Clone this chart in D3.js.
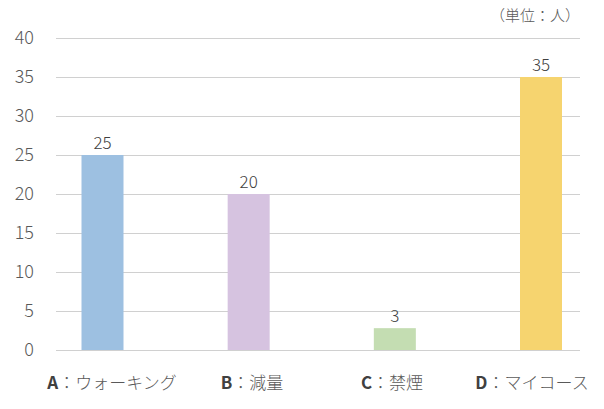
<!DOCTYPE html>
<html>
<head>
<meta charset="utf-8">
<script src="https://cdn.jsdelivr.net/npm/d3@7"></script>
<style>
  body { margin: 0; background: #fff; }
  text { font-family: "Noto Sans CJK JP", "Noto Sans", sans-serif; }
</style>
</head>
<body>
<div id="chart"></div>
<script>
const width = 604;
const height = 409;

// data
const letters = ["A", "B", "C", "D"];
const names = ["ウォーキング", "減量", "禁煙", "マイコース"];
const values = [25, 20, 2.8, 35];
const colors = ["#9dc0e1", "#d6c3e0", "#c4ddb2", "#f6d46f"];
const yTicks = [0, 5, 10, 15, 20, 25, 30, 35, 40];
const unitLabel = "（単位：人）";

const svg = d3.select("#chart").append("svg")
    .attr("width", width)
    .attr("height", height)
    .attr("viewBox", [0, 0, width, height]);

const plotLeft = 56, plotRight = 580;

const y = d3.scaleLinear().domain([0, 40]).range([350, 38]);
// bar centres
const x = d3.scalePoint().domain(letters).range([102.5, 541]);
// category label centres
const xLabel = d3.scalePoint().domain(letters).range([112, 532]);
const barWidth = 42;
const fmt = d3.format(".0f");

// gridlines
svg.append("g").selectAll("line")
    .data(yTicks)
    .enter().append("line")
    .attr("x1", plotLeft)
    .attr("x2", plotRight)
    .attr("y1", d => Math.round(y(d)) + 0.5)
    .attr("y2", d => Math.round(y(d)) + 0.5)
    .attr("stroke", "#d0d0d0")
    .attr("stroke-width", 1);

// y tick labels
svg.append("g").selectAll("text")
    .data(yTicks)
    .enter().append("text")
    .attr("x", 34)
    .attr("y", d => y(d))
    .attr("dy", "0.35em")
    .attr("text-anchor", "end")
    .style("font-size", "18px")
    .style("font-weight", "300")
    .style("fill", "#595959")
    .text(d => d);

// bars
svg.append("g").selectAll("rect")
    .data(values)
    .enter().append("rect")
    .attr("x", (d, i) => x(letters[i]) - barWidth / 2)
    .attr("y", d => y(d))
    .attr("width", barWidth)
    .attr("height", d => y(0) - y(d))
    .attr("fill", (d, i) => colors[i]);

// value labels
svg.append("g").selectAll("text")
    .data(values)
    .enter().append("text")
    .attr("x", (d, i) => x(letters[i]))
    .attr("y", d => y(d) - 6)
    .attr("text-anchor", "middle")
    .style("font-size", "17px")
    .style("font-weight", "300")
    .style("fill", "#404040")
    .text(d => fmt(d));

// category labels
const cat = svg.append("g").selectAll("text")
    .data(letters)
    .enter().append("text")
    .attr("x", d => xLabel(d))
    .attr("y", 389)
    .attr("text-anchor", "middle")
    .style("font-size", "17px")
    .style("font-weight", "300")
    .style("fill", "#595959");
cat.append("tspan")
    .style("font-weight", "bold")
    .style("fill", "#404040")
    .text(d => d);
cat.append("tspan")
    .text((d, i) => "：" + names[i]);

// unit label
svg.append("text")
    .attr("x", 580)
    .attr("y", 21)
    .attr("text-anchor", "end")
    .style("font-size", "15px")
    .style("font-weight", "300")
    .style("fill", "#595959")
    .text(unitLabel);
</script>
</body>
</html>
